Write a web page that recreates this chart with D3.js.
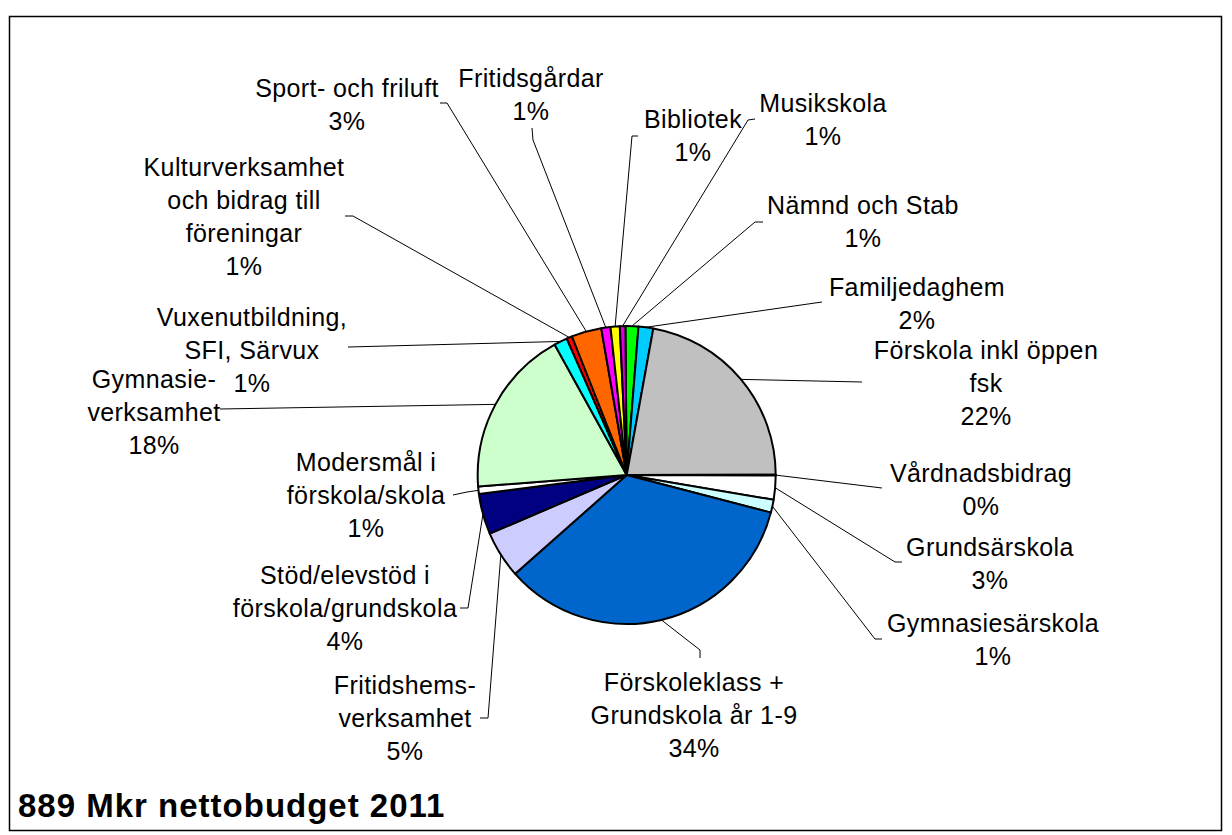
<!DOCTYPE html>
<html>
<head>
<meta charset="utf-8">
<script src="https://cdn.jsdelivr.net/npm/d3@7"></script>
<style>
  html, body { margin: 0; padding: 0; background: #fff; }
  svg { display: block; }
</style>
</head>
<body>
<svg id="chart" width="1232" height="835"></svg>
<script>
// ---- data ----
const categories = [
  "Nämnd och Stab",
  "Familjedaghem",
  "Förskola inkl öppen\nfsk",
  "Vårdnadsbidrag",
  "Grundsärskola",
  "Gymnasiesärskola",
  "Förskoleklass +\nGrundskola år 1-9",
  "Fritidshems-\nverksamhet",
  "Stöd/elevstöd i\nförskola/grundskola",
  "Modersmål i\nförskola/skola",
  "Gymnasie-\nverksamhet",
  "Vuxenutbildning,\nSFI, Särvux",
  "Kulturverksamhet\noch bidrag till\nföreningar",
  "Sport- och friluft",
  "Fritidsgårdar",
  "Bibliotek",
  "Musikskola"
];
const shares = [1.4, 1.6, 22.1, 0.1, 2.6, 1.4, 34.4, 5.1, 4.4, 0.8, 18.2, 1.45, 0.6, 3.25, 1.0, 1.0, 0.6];
const sliceColors = ["#00FF00", "#00CCFF", "#C0C0C0", "#FFFFFF", "#FFFFFF", "#CCFFFF", "#0066CC", "#CCCCFF",
  "#000080", "#FFFFFF", "#CCFFCC", "#00FFFF", "#FF0000", "#FF6600", "#FF00FF", "#FFFF00", "#DD00DD"];
const title = "889 Mkr nettobudget 2011";

// ---- layout (label placement) ----
const labelLayout = [
  {cx: 863, cy: 205, lead: [[763, 222], [755, 222]]},
  {cx: 917, cy: 287, lead: [[822, 302]]},
  {cx: 986, cy: 350, lead: [[862, 382]]},
  {cx: 981, cy: 473, lead: [[882, 488]]},
  {cx: 990, cy: 547, lead: [[902, 562], [895, 562]]},
  {cx: 993, cy: 623, lead: [[882, 639], [875, 639]]},
  {cx: 694, cy: 682, lead: [[700, 658], [700, 650]]},
  {cx: 405, cy: 685, lead: [[480, 718], [488, 718]]},
  {cx: 345, cy: 575, lead: [[460, 608], [468, 608]]},
  {cx: 366, cy: 462, lead: [[453, 495], [467, 492]]},
  {cx: 154, cy: 379, lead: [[220, 409]]},
  {cx: 252, cy: 317, lead: [[348, 347]]},
  {cx: 244, cy: 167, lead: [[345, 216], [353, 216]]},
  {cx: 347, cy: 88,  lead: [[440, 103], [447, 103]]},
  {cx: 531, cy: 78,  lead: [[532, 128], [533, 140]]},
  {cx: 693, cy: 119, lead: [[638, 136], [632, 136]]},
  {cx: 823, cy: 103, lead: [[755, 119], [748, 120]]}
];

const svg = d3.select("#chart");
const center = [626.7, 475], radius = 149;
const fontFamily = "'Liberation Sans', Arial, sans-serif";
const fontSize = 25, lineH = 33;

// frame
svg.append("rect").attr("x", 9.5).attr("y", 16.5).attr("width", 1212).attr("height", 814)
  .attr("fill", "#fff").attr("stroke", "#000").attr("stroke-width", 1.5);

const total = d3.sum(shares);
const data = categories.map((c, i) => ({name: c, value: shares[i], color: sliceColors[i], i}));

const startA = -0.5 * Math.PI / 180;
const pie = d3.pie().value(d => d.value).sort(null)
  .startAngle(startA).endAngle(startA + 2 * Math.PI);
const arcs = pie(data);
const arc = d3.arc().innerRadius(0).outerRadius(radius);
const rimArc = d3.arc().innerRadius(radius).outerRadius(radius);

const g = svg.append("g").attr("transform", `translate(${center[0]},${center[1]})`);

// leader lines
const line = d3.line();
svg.append("g").selectAll("path").data(arcs).join("path")
  .attr("d", d => {
    const L = labelLayout[d.data.i];
    const rim = rimArc.centroid(d);
    const pts = L.lead.concat([[rim[0] + center[0], rim[1] + center[1]]]);
    return line(pts);
  })
  .attr("fill", "none").attr("stroke", "#000").attr("stroke-width", 1);

// slices
g.selectAll("path.slice").data(arcs).join("path")
  .attr("class", "slice")
  .attr("d", arc)
  .attr("fill", d => d.data.color)
  .attr("stroke", "#000").attr("stroke-width", 2).attr("stroke-linejoin", "round");

// labels
const lg = svg.append("g")
  .attr("font-family", fontFamily).attr("font-size", fontSize).attr("fill", "#000")
  .attr("text-anchor", "middle");
arcs.forEach(d => {
  const L = labelLayout[d.data.i];
  const pct = Math.round(d.data.value / total * 100) + "%";
  const lines = d.data.name.split("\n").concat([pct]);
  const t = lg.append("text").attr("x", L.cx).attr("y", L.cy);
  lines.forEach((s, k) => {
    t.append("tspan").attr("x", L.cx).attr("y", L.cy + k * lineH).attr("dy", "0.35em")
      .attr("letter-spacing", 0.4).text(s);
  });
});

// title
svg.append("text").attr("x", 18).attr("y", 817)
  .attr("font-family", fontFamily).attr("font-size", 33).attr("font-weight", "bold")
  .attr("letter-spacing", 1)
  .text(title);
</script>
</body>
</html>
